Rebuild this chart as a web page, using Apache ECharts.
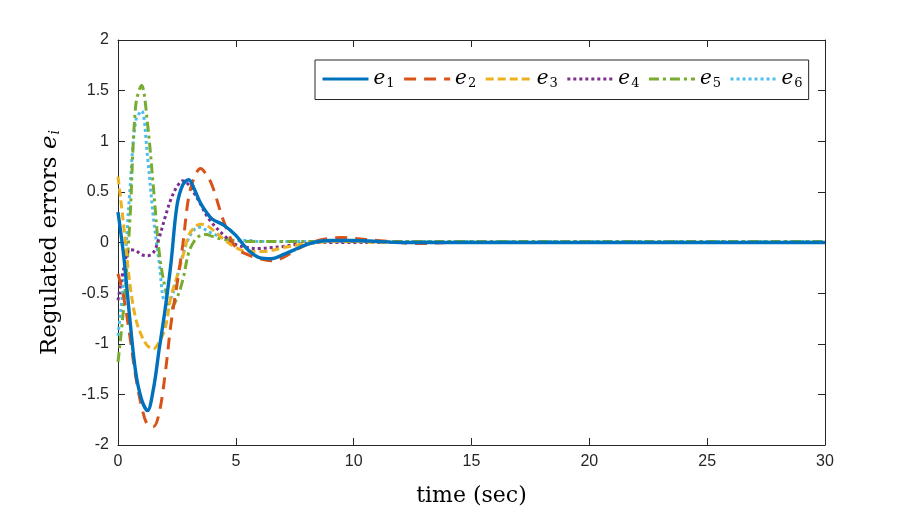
<!DOCTYPE html>
<html>
<head>
<meta charset="utf-8">
<script src="https://cdn.jsdelivr.net/npm/echarts@6/dist/echarts.min.js"></script>
<style>
  html, body { margin: 0; padding: 0; background: #fff; }
  #chart { width: 913px; height: 517px; }
</style>
</head>
<body>
<div id="chart"></div>
<script>
// sample times (sec)
var time = [0, 0.25, 0.5, 0.75, 1, 1.25, 1.5, 1.75, 2, 2.25, 2.5, 2.75, 3, 3.25, 3.5, 3.75, 4,
  4.5, 5, 5.5, 6, 6.5, 7, 7.5, 8, 8.5, 9, 9.5, 10, 11, 12, 12.5, 13, 14, 15, 20, 25, 30];

var e1 = [0.30, -0.15, -0.75, -1.28, -1.55, -1.66, -1.45, -1.05, -0.66, -0.20, 0.36, 0.57, 0.62, 0.52, 0.39, 0.30, 0.23,
  0.17, 0.07, -0.07, -0.15, -0.16, -0.12, -0.07, -0.02, 0.01, 0.02, 0.02, 0.02, 0.01, 0, 0, 0, 0, 0, 0, 0, 0];
var e2 = [-0.31, -0.55, -0.92, -1.32, -1.62, -1.80, -1.82, -1.68, -1.30, -0.80, -0.42, -0.02, 0.45, 0.65, 0.73, 0.67, 0.56,
  0.20, -0.05, -0.12, -0.16, -0.18, -0.15, -0.08, -0.02, 0.02, 0.04, 0.05, 0.04, 0.02, 0, -0.01, -0.01, 0, 0, 0, 0, 0];
var e3 = [0.65, 0.15, -0.40, -0.75, -0.92, -1.02, -1.05, -0.98, -0.85, -0.53, -0.34, -0.14, 0.07, 0.15, 0.18, 0.17, 0.13,
  0.03, -0.05, -0.09, -0.09, -0.08, -0.05, -0.03, -0.01, 0, 0.01, 0.01, 0.01, 0, 0, 0, 0, 0, 0, 0, 0, 0];
var e4 = [-0.57, -0.25, -0.07, -0.08, -0.12, -0.13, -0.10, 0.05, 0.25, 0.43, 0.55, 0.61, 0.57, 0.48, 0.38, 0.27, 0.19,
  0.07, -0.02, -0.05, -0.06, -0.05, -0.04, -0.02, -0.01, 0, 0, 0, 0, 0, 0, 0, 0, 0, 0, 0, 0, 0];
var e5 = [-1.18, -0.62, 0.20, 1.35, 1.55, 1.18, 0.55, -0.10, -0.45, -0.65, -0.55, -0.37, -0.10, 0.02, 0.07, 0.08, 0.06,
  0.03, 0.02, 0.01, 0.01, 0.01, 0.01, 0.01, 0.01, 0.01, 0.01, 0.01, 0.01, 0.01, 0.01, 0.01, 0.01, 0.01, 0.01, 0.01, 0.01, 0.01];
var e6 = [-0.92, -0.35, 0.50, 1.20, 1.30, 0.85, 0.25, -0.20, -0.58, -0.55, -0.35, -0.12, 0.04, 0.13, 0.15, 0.12, 0.09,
  0.04, 0.02, 0.02, 0.01, 0.01, 0.01, 0.01, 0.01, 0.01, 0.01, 0.01, 0.01, 0.01, 0.01, 0.01, 0.01, 0.01, 0.01, 0.01, 0.01, 0.01];

var names = ['e1', 'e2', 'e3', 'e4', 'e5', 'e6'];
var seriesValues = [e1, e2, e3, e4, e5, e6];
var colors = ['#0072BD', '#D95319', '#EDB120', '#7E2F8E', '#77AC30', '#4DBEEE'];
var dashes = ['solid', [12, 8], [8, 4], [3, 3], [10, 4, 3, 4], [3, 3]];

var axisColor = '#262626';
var tickFont = 'Liberation Sans, Arial, sans-serif';
var serifFont = 'DejaVu Serif, Liberation Serif, serif';

function pairs(ys) {
  var out = [];
  for (var i = 0; i < time.length; i++) out.push([time[i], ys[i]]);
  return out;
}

var series = [];
for (var k = 0; k < names.length; k++) {
  series.push({
    name: names[k],
    type: 'line',
    xAxisIndex: 0,
    yAxisIndex: 0,
    data: pairs(seriesValues[k]),
    smooth: 0.35,
    symbol: 'none',
    z: 10 - k,
    lineStyle: { color: colors[k], width: k === 0 ? 3.4 : 3, type: dashes[k] },
    itemStyle: { color: colors[k] }
  });
}

var chart = echarts.init(document.getElementById('chart'), null, { renderer: 'canvas' });

var labelRich = {
  e: { fontFamily: serifFont, fontStyle: 'italic', fontSize: 20, color: '#000' },
  s: { fontFamily: serifFont, fontSize: 13, color: '#000', padding: [10, 0, 0, 1] }
};

chart.setOption({
  animation: false,
  backgroundColor: '#fff',
  color: colors,
  grid: { left: 118, right: 88, top: 40, bottom: 72, containLabel: false },
  legend: {
    data: names,
    left: 315,
    top: 60,
    width: 500,
    padding: [9, 6, 9, 6],
    itemGap: 8,
    itemWidth: 46,
    itemHeight: 14,
    borderColor: axisColor,
    borderWidth: 1,
    borderRadius: 0,
    backgroundColor: '#fff',
    itemStyle: { color: 'rgba(0,0,0,0)', borderWidth: 0, opacity: 0 },
    lineStyle: { width: 3 },
    formatter: function (n) { return '{e|e}{s|' + n.slice(1) + '}'; },
    textStyle: { rich: labelRich, padding: [0, 0, 0, 0] }
  },
  xAxis: [{
    type: 'value', min: 0, max: 30, interval: 5, position: 'bottom',
    name: 'time (sec)', nameLocation: 'middle', nameGap: 40,
    nameTextStyle: { fontFamily: serifFont, fontSize: 22, color: '#000' },
    axisLine: { show: true, onZero: false, lineStyle: { color: axisColor, width: 1 } },
    axisTick: { show: true, inside: true, length: 7, lineStyle: { color: axisColor } },
    axisLabel: { fontFamily: tickFont, fontSize: 16, color: axisColor, margin: 9 },
    splitLine: { show: false }
  }, {
    type: 'value', min: 0, max: 30, interval: 5, position: 'top',
    axisLine: { show: true, onZero: false, lineStyle: { color: axisColor, width: 1 } },
    axisTick: { show: true, inside: true, length: 7, lineStyle: { color: axisColor } },
    axisLabel: { show: false },
    splitLine: { show: false }
  }],
  yAxis: [{
    type: 'value', min: -2, max: 2, interval: 0.5, position: 'left',
    name: '{a|Regulated errors }{b|e}{c|i}', nameLocation: 'middle', nameGap: 56, nameRotate: 90,
    nameTextStyle: {
      rich: {
        a: { fontFamily: serifFont, fontSize: 23, color: '#000' },
        b: { fontFamily: serifFont, fontStyle: 'italic', fontSize: 23, color: '#000' },
        c: { fontFamily: serifFont, fontStyle: 'italic', fontSize: 14, color: '#000', padding: [10, 0, 0, 1] }
      }
    },
    axisLine: { show: true, onZero: false, lineStyle: { color: axisColor, width: 1 } },
    axisTick: { show: true, inside: true, length: 7, lineStyle: { color: axisColor } },
    axisLabel: { fontFamily: tickFont, fontSize: 16, color: axisColor, margin: 9 },
    splitLine: { show: false }
  }, {
    type: 'value', min: -2, max: 2, interval: 0.5, position: 'right',
    axisLine: { show: true, onZero: false, lineStyle: { color: axisColor, width: 1 } },
    axisTick: { show: true, inside: true, length: 7, lineStyle: { color: axisColor } },
    axisLabel: { show: false },
    splitLine: { show: false }
  }],
  series: series
});
</script>
</body>
</html>
